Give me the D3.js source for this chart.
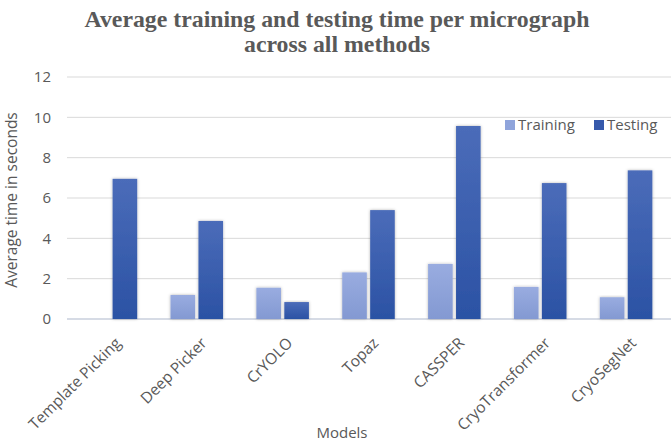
<!DOCTYPE html>
<html>
<head>
<meta charset="utf-8">
<script src="https://cdn.jsdelivr.net/npm/d3@7"></script>
<style>
  body { margin: 0; background: #fff; }
</style>
</head>
<body>
<div class="chart"></div>
<script>
const models = ["Template Picking", "Deep Picker", "CrYOLO", "Topaz", "CASSPER", "CryoTransformer", "CryoSegNet"];
const training = [null, 1.19, 1.55, 2.31, 2.73, 1.59, 1.08];
const testing = [6.95, 4.86, 0.84, 5.4, 9.57, 6.74, 7.37];
const series = ["Training", "Testing"];
const yTicks = [0, 2, 4, 6, 8, 10, 12];

const width = 671, height = 443;
const margin = {top: 77, right: 1, bottom: 124, left: 68};

const svg = d3.select(".chart")
  .append("svg")
    .attr("width", width)
    .attr("height", height)
    .style("font-family", "'Open Sans', sans-serif");

const defs = svg.append("defs");
const grads = [
  {id: "gTrain", top: "#99ace0", bottom: "#8399d2"},
  {id: "gTest", top: "#4b6cb9", bottom: "#2b52a4"}
];
grads.forEach(g => {
  const lg = defs.append("linearGradient")
    .attr("id", g.id)
    .attr("x1", 0).attr("y1", 0).attr("x2", 0).attr("y2", 1);
  lg.append("stop").attr("offset", "0%").attr("stop-color", g.top);
  lg.append("stop").attr("offset", "100%").attr("stop-color", g.bottom);
});
defs.append("filter")
    .attr("id", "shadow")
    .attr("x", "-30%").attr("y", "-10%").attr("width", "160%").attr("height", "130%")
  .append("feDropShadow")
    .attr("dx", 0).attr("dy", 0).attr("stdDeviation", 1.6)
    .attr("flood-color", "#000").attr("flood-opacity", 0.3);

const x = d3.scaleBand()
  .domain(models)
  .range([margin.left, width - margin.right - 1])
  .paddingInner(0.31)
  .paddingOuter(0.155);

const x1 = d3.scaleBand()
  .domain(series)
  .range([0, x.bandwidth()])
  .padding(0.12);

const y = d3.scaleLinear()
  .domain([0, 12])
  .range([height - margin.bottom, margin.top]);

// gridlines
svg.append("g")
  .selectAll("line")
  .data(yTicks)
  .join("line")
    .attr("x1", margin.left - 1)
    .attr("x2", width)
    .attr("y1", d => y(d))
    .attr("y2", d => y(d))
    .attr("stroke", d => d === 0 ? "#c8cfdc" : "#d9d9d9")
    .attr("stroke-width", d => d === 0 ? 1.5 : 1);

// y tick labels
svg.append("g")
  .selectAll("text")
  .data(yTicks)
  .join("text")
    .text(d => d)
    .attr("x", 51)
    .attr("y", d => y(d))
    .attr("dy", "0.35em")
    .attr("text-anchor", "end")
    .attr("fill", "#595959")
    .style("font-size", "15px");

// bars
const rows = models.map((m, i) => ({model: m, values: [training[i], testing[i]]}));

const group = svg.append("g")
  .selectAll("g")
  .data(rows)
  .join("g")
    .attr("transform", d => `translate(${x(d.model)}, 0)`);

group.selectAll("rect")
  .data(d => d.values.map((v, j) => ({key: series[j], value: v})).filter(d => d.value != null))
  .join("rect")
    .attr("x", d => x1(d.key))
    .attr("y", d => y(d.value))
    .attr("width", x1.bandwidth())
    .attr("height", d => y(0) - y(d.value))
    .attr("fill", d => d.key === "Training" ? "url(#gTrain)" : "url(#gTest)")
    .attr("filter", "url(#shadow)");

// x labels
svg.append("g")
  .selectAll("text")
  .data(models)
  .join("text")
    .text(d => d)
    .attr("text-anchor", "end")
    .attr("transform", d => `translate(${x(d) + x.bandwidth() / 2 + 11}, ${y(0) + 25}) rotate(-45)`)
    .attr("fill", "#595959")
    .style("font-size", "15.5px");

// axis titles
svg.append("text")
  .text("Models")
  .attr("x", 342)
  .attr("y", 438)
  .attr("text-anchor", "middle")
  .attr("fill", "#595959")
  .style("font-size", "15px");

svg.append("text")
  .text("Average time in seconds")
  .attr("transform", `translate(17, ${(y(0) + y(12)) / 2 + 2}) rotate(-90)`)
  .attr("text-anchor", "middle")
  .attr("fill", "#595959")
  .style("font-size", "15.5px");

// title
const titleLines = ["Average training and testing time per micrograph", "across all methods"];
svg.append("g")
  .selectAll("text")
  .data(titleLines)
  .join("text")
    .text(d => d)
    .attr("x", 337)
    .attr("y", (d, i) => 27 + i * 25)
    .attr("text-anchor", "middle")
    .attr("fill", "#595959")
    .style("font-family", "'Liberation Serif', 'Times New Roman', serif")
    .style("font-weight", "bold")
    .style("font-size", "23.8px");

// legend
const legendColors = ["#8fa4db", "#3659ab"];
const legendX = [505, 594];
const legend = svg.append("g")
  .selectAll("g")
  .data(series)
  .join("g")
    .attr("transform", (d, i) => `translate(${legendX[i]}, 120)`);

legend.append("rect")
  .attr("width", 10)
  .attr("height", 10)
  .attr("fill", (d, i) => legendColors[i]);

legend.append("text")
  .text(d => d)
  .attr("x", 13)
  .attr("y", 5)
  .attr("dy", "0.35em")
  .attr("fill", "#595959")
  .style("font-size", "15px");
</script>
</body>
</html>
